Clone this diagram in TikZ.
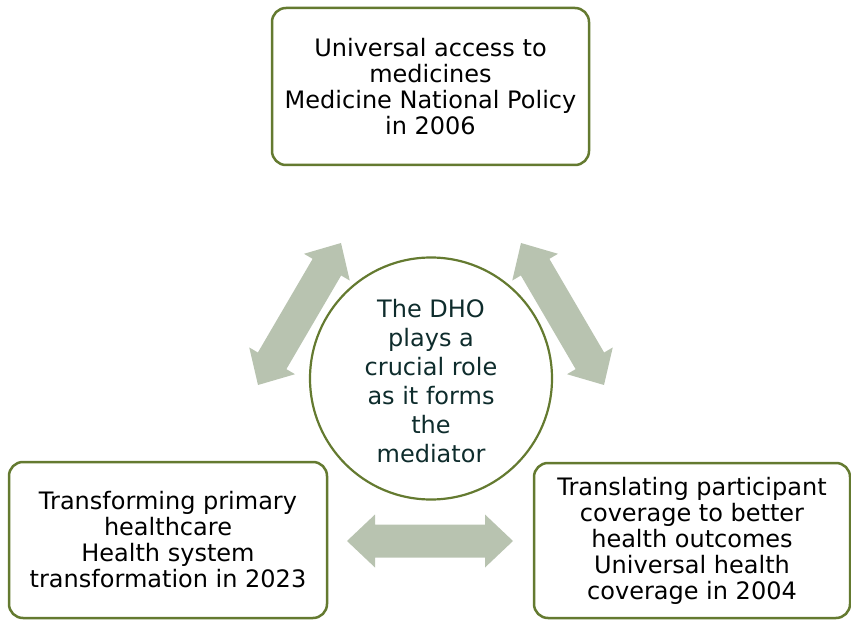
\documentclass[tikz,border=0pt]{standalone}
\usepackage{fontspec}
\setmainfont{DejaVu Sans}
\usetikzlibrary{calc}
\definecolor{olive}{RGB}{100,122,48}
\definecolor{arrowfill}{RGB}{184,195,176}
\definecolor{dhotext}{RGB}{14,44,44}
\tikzset{
  box/.style={draw=olive, line width=2.5pt, rounded corners=14pt, fill=white, align=center,
    font=\fontsize{24}{26}\selectfont, inner sep=0pt},
  hub/.style={draw=olive, line width=2.2pt, circle, minimum size=242pt, align=center,
    text=dhotext, font=\fontsize{24}{29}\selectfont, inner sep=0pt},
  bigarrow/.style={fill=arrowfill, draw=none}
}
\newcommand{\dblarrow}[2]{%
  \coordinate (HA) at ($(#1)!28pt!(#2)$);
  \coordinate (HB) at ($(#2)!28pt!(#1)$);
  \fill[bigarrow] (#1)
    -- ($(HA)!26.5pt!90:(#2)$) -- ($(HA)!16.5pt!90:(#2)$)
    -- ($(HB)!16.5pt!-90:(#1)$) -- ($(HB)!26.5pt!-90:(#1)$)
    -- (#2)
    -- ($(HB)!26.5pt!90:(#1)$) -- ($(HB)!16.5pt!90:(#1)$)
    -- ($(HA)!16.5pt!-90:(#2)$) -- ($(HA)!26.5pt!-90:(#2)$) -- cycle;
}
\begin{document}
\begin{tikzpicture}[x=1pt,y=-1pt]
\useasboundingbox (0,0) rectangle (851,620);
\node[box, minimum width=317pt, minimum height=157pt] (top) at (430.5,86.5)
  {Universal access to\\medicines\\Medicine National Policy\\in 2006};
\node[box, minimum width=318pt, minimum height=156pt] (left) at (168,540)
  {Transforming primary\\healthcare\\Health system\\transformation in 2023};
\node[box, minimum width=316pt, minimum height=155pt] (right) at (692,540.5)
  {Translating participant\\coverage to better\\health outcomes\\Universal health\\coverage in 2004};
\node[hub] (dho) at (431,378.5) {};
\node[text=dhotext, align=center, font=\fontsize{24}{29}\selectfont, inner sep=0pt] (dhotxt)
  at (431,381) {The DHO\\plays a\\crucial role\\as it forms\\the\\mediator};
\coordinate (la) at (258,385);
\coordinate (lb) at (341,243);
\coordinate (ra) at (521,243);
\coordinate (rb) at (604,385);
\coordinate (ba) at (347,541);
\coordinate (bb) at (513,541);
\dblarrow{la}{lb}
\dblarrow{ra}{rb}
\dblarrow{ba}{bb}
\end{tikzpicture}
\end{document}
